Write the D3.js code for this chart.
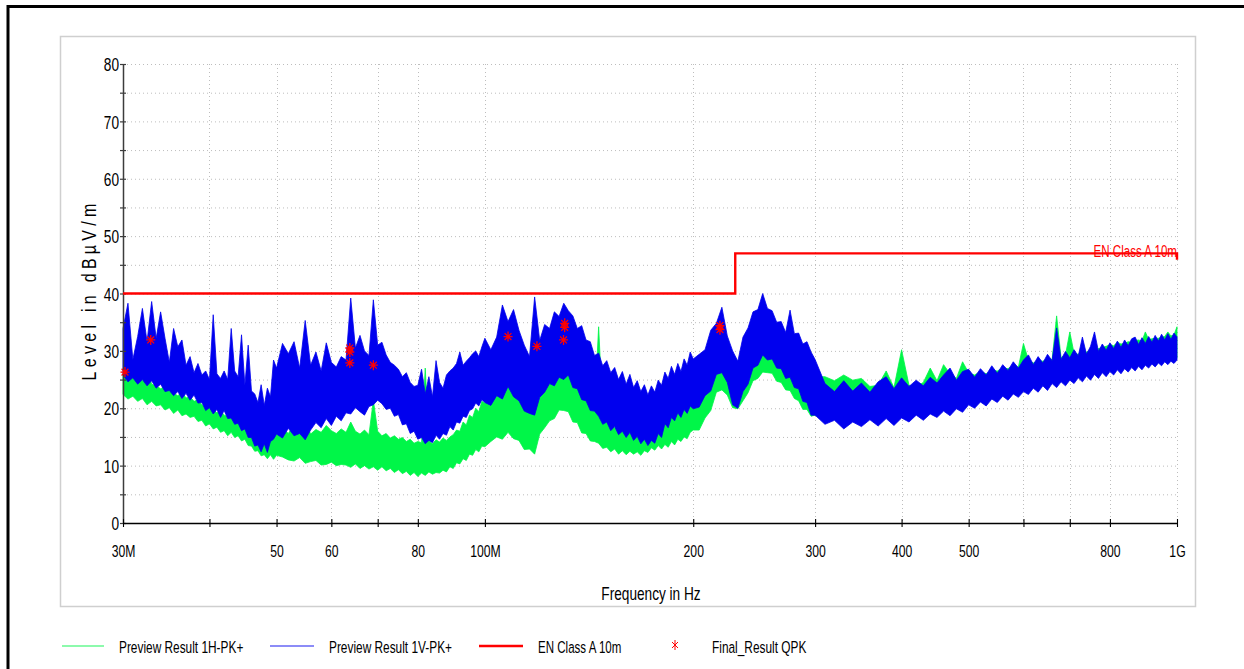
<!DOCTYPE html>
<html>
<head>
<meta charset="utf-8">
<script src="https://cdn.jsdelivr.net/npm/d3@7"></script>
<style>
  body { margin: 0; background: #fff; }
  svg { display: block; }
</style>
</head>
<body>
<svg id="chart" width="1244" height="669"></svg>
<script>
// Sweep frequencies in MHz
const freqMHz = [
  30,30.5,31,31.5,32,32.5,33,33.5,34,34.5,
  35,35.5,36,36.5,37,37.5,38,38.5,39,39.5,
  40,40.5,41,41.5,42,42.5,43,43.5,44,44.5,
  45,45.5,46,46.5,47,47.5,48,48.5,49,49.5,
  50,
  51,52,53,54,55,56,57,58,59,60,
  61,62,63,64,65,66,67,68,69,70,
  71,72,73,74,75,76,77,78,79,80,
  81,82,83,84,85,86,87,88,89,90,
  91,92,93,94,95,96,97,98,99,100,
  102,104,106,108,110,112,114,116,118,120,
  122,124,126,128,130,132,134,136,138,140,
  142,144,146,148,150,152,154,156,158,160,
  162,164,166,168,170,172,174,176,178,180,
  182,184,186,188,190,192,194,196,198,200,
  204,208,212,216,220,224,228,232,236,240,
  244,248,252,256,260,264,268,272,276,280,
  284,288,292,296,300,
  310,320,330,340,350,360,370,380,390,400,
  410,420,430,440,450,460,470,480,490,500,
  510,520,530,540,550,560,570,580,590,600,
  610,620,630,640,650,660,670,680,690,700,
  710,720,730,740,750,760,770,780,790,800,
  810,820,830,840,850,860,870,880,890,900,
  910,920,930,940,950,960,970,980,990,1000
];

// Preview Result 1H-PK+ : upper / lower edge of the peak trace (dBµV/m)
const levelH_max = [
  25.8,25.2,25.5,24.6,24.9,26.8,24.2,23.9,23.4,23.8,
  24.3,22.6,22.2,22.8,21.8,22.0,21.2,21.5,20.6,20.2,
  20.5,19.8,19.2,19.6,18.8,18.6,18.9,18.2,17.8,17.5,
  17.9,17.0,16.5,16.2,16.6,15.8,15.2,15.6,14.9,15.4,
  15.8,
  16.5,15.6,17.2,16.0,17.8,15.5,16.3,15.8,17.0,16.1,
  15.6,16.4,15.8,17.6,16.0,15.5,16.2,15.4,21.4,16.0,
  15.2,15.6,14.8,15.2,14.6,14.9,14.2,14.6,13.9,14.2,
  14.0,27.0,14.3,13.8,14.5,14.1,14.8,14.4,15.0,15.4,
  16.2,16.0,17.6,17.1,18.8,18.4,20.0,19.4,21.2,20.9,
  22.0,23.6,23.4,24.4,23.0,22.6,20.6,20.9,21.5,23.8,
  24.2,25.8,26.0,27.9,28.4,27.1,26.2,24.0,23.5,21.6,
  21.3,19.6,34.2,19.4,17.8,18.0,16.5,17.3,16.1,17.6,
  15.9,16.5,16.8,15.5,16.7,16.2,17.8,17.1,18.4,17.8,
  19.3,18.3,19.6,19.2,20.4,19.6,21.0,20.1,21.4,20.8,
  22.9,23.2,25.4,26.1,27.9,25.6,23.8,21.7,23.9,25.1,
  27.9,28.6,30.4,30.1,29.8,28.4,28.3,26.6,26.8,25.4,
  25.5,24.2,24.4,25.6,25.5,
  25.5,24.8,25.8,24.9,25.2,23.8,24.0,26.5,23.6,30.2,
  24.0,23.8,24.5,27.0,24.8,27.6,26.0,25.2,28.1,26.2,
  25.8,26.4,26.0,26.6,26.5,27.0,26.9,27.5,27.2,31.3,
  28.4,27.9,28.3,28.2,28.6,28.5,36.1,28.8,29.3,33.3,
  29.6,29.4,30.2,29.8,30.1,30.5,30.4,30.6,30.8,31.1,
  30.9,31.5,31.2,31.3,31.6,31.5,31.8,31.9,31.7,33.3,
  32.0,32.1,32.2,32.2,32.4,32.5,33.3,32.6,32.8,34.2
];
const levelH_min = [
  22.4,21.6,22.1,21.2,21.7,20.6,21.2,20.4,20.6,19.7,
  20.1,19.1,19.7,18.7,19.0,18.4,18.6,17.7,17.9,16.9,
  17.3,16.4,16.7,15.8,16.1,15.2,15.8,14.9,15.2,14.3,
  14.6,13.5,13.4,12.5,12.6,11.7,11.9,11.2,11.9,11.1,
  11.8,
  11.5,11.0,10.8,11.4,10.4,10.7,10.9,10.1,10.2,10.6,
  10.0,10.2,10.1,9.7,10.3,9.5,10.0,9.4,9.8,9.2,
  9.8,9.1,9.5,8.8,9.3,8.6,9.0,8.3,8.8,8.1,
  8.7,8.3,8.9,8.5,8.8,8.7,9.2,8.9,9.8,9.5,
  10.5,10.3,11.2,10.9,12.0,11.8,12.8,12.4,13.4,13.3,
  14.2,15.0,14.6,15.8,14.7,14.4,12.8,12.9,12.0,15.5,
  16.6,17.8,18.2,19.7,19.6,19.4,17.6,17.5,15.7,15.6,
  14.3,14.2,13.9,13.0,13.2,12.4,12.9,12.0,12.6,11.9,
  12.5,12.0,12.4,11.8,12.6,12.3,13.1,12.7,13.5,12.9,
  13.7,13.2,14.2,13.6,14.6,14.2,15.0,14.7,15.8,16.2,
  16.2,18.3,19.6,22.8,23.2,22.3,20.1,19.9,21.3,22.7,
  24.8,25.2,26.3,26.2,26.1,24.7,24.5,23.2,23.1,21.7,
  21.3,19.8,19.8,18.6,18.8,
  18.3,18.0,18.5,17.9,18.4,18.7,18.1,18.9,18.6,19.0,
  18.9,19.6,19.2,19.9,19.5,20.3,19.8,20.6,20.2,21.2,
  20.8,21.7,21.2,22.1,21.7,22.6,22.1,23.0,22.6,23.4,
  23.1,23.9,23.5,24.3,23.8,24.6,24.2,24.9,24.5,25.3,
  24.9,25.6,25.2,25.9,25.5,26.2,25.8,26.4,26.0,26.7,
  26.3,26.9,26.6,27.2,26.8,27.4,27.0,27.6,27.2,27.8,
  27.5,28.0,27.7,28.2,27.9,28.4,28.1,28.5,28.3,28.7
];

// Preview Result 1V-PK+ : upper / lower edge of the peak trace (dBµV/m)
const levelV_max = [
  33.9,38.3,28.5,32.5,37.4,31.6,38.6,32.2,36.8,32.2,
  28.0,33.9,30.7,31.9,27.5,29.0,26.2,27.8,25.8,26.5,
  25.0,36.3,26.0,25.2,26.5,25.0,33.9,26.5,25.5,32.8,
  24.0,31.0,23.0,22.5,21.0,24.1,20.5,23.5,22.0,28.4,
  27.0,
  31.3,29.5,31.6,27.0,35.3,27.5,29.8,26.5,31.4,28.0,
  27.2,29.0,28.4,39.2,30.5,32.7,30.0,29.2,38.9,31.0,
  31.5,29.3,28.0,27.5,26.8,25.5,26.2,24.5,23.8,24.0,
  26.8,22.5,25.5,22.0,28.3,24.5,23.5,25.8,26.5,27.0,
  27.8,29.8,27.5,28.2,28.8,29.5,30.0,29.0,30.7,32.2,
  30.2,32.4,38.0,35.1,37.2,33.6,31.0,29.0,39.4,31.8,
  34.6,33.9,36.8,36.0,38.3,37.0,36.1,33.9,34.4,31.9,
  31.6,29.2,29.6,27.4,28.3,26.2,27.1,25.0,26.4,24.2,
  25.9,23.6,24.8,22.9,24.1,22.3,23.9,22.8,24.9,24.0,
  26.3,25.2,27.3,25.9,27.8,26.4,28.6,27.5,29.8,28.6,
  29.4,30.2,33.6,34.8,37.6,32.6,30.0,28.2,32.4,34.0,
  36.8,37.2,40.0,37.4,37.0,35.0,35.1,33.2,37.1,33.0,
  33.1,31.2,31.6,29.8,28.5,
  24.3,22.9,24.8,23.0,24.4,22.8,24.6,25.5,23.4,25.3,
  23.8,24.9,23.9,25.4,24.4,25.8,27.0,24.9,26.4,26.8,
  25.4,26.9,25.8,27.4,26.1,27.6,26.6,28.1,27.0,28.4,
  29.3,27.6,29.0,27.9,29.4,28.3,34.0,28.5,29.9,28.8,
  30.2,29.1,32.4,29.4,30.8,33.3,29.9,31.2,30.1,31.4,
  30.4,31.7,30.6,31.9,30.9,32.1,32.4,31.1,32.3,31.3,
  32.5,31.5,32.7,31.7,32.9,31.9,33.0,32.0,33.1,32.4
];
const levelV_min = [
  25.8,24.6,25.3,24.2,25.0,23.9,24.8,23.5,24.2,22.9,
  23.1,22.2,22.9,21.7,22.6,21.4,22.3,20.9,21.0,19.6,
  20.1,19.0,19.8,18.4,19.6,18.2,18.3,17.2,17.4,16.1,
  16.4,14.9,14.9,13.4,13.6,12.4,13.8,12.3,14.2,14.6,
  15.5,
  14.8,16.5,15.2,15.6,14.5,16.2,17.5,16.6,18.2,17.0,
  18.6,17.8,19.2,19.0,20.1,19.4,18.8,20.3,20.6,21.4,
  20.8,19.8,20.0,18.6,18.9,17.1,17.3,15.6,16.0,14.6,
  14.9,13.8,14.4,14.0,15.3,14.6,15.6,15.3,16.8,16.2,
  17.6,17.4,18.6,18.4,19.6,19.9,20.9,20.4,21.5,21.0,
  20.5,22.2,21.6,23.8,22.0,21.3,19.5,19.1,18.8,21.9,
  22.8,24.3,23.9,25.4,25.0,25.8,23.6,23.4,21.5,21.3,
  19.6,19.5,18.6,17.2,17.6,16.1,16.8,15.4,16.0,14.9,
  15.8,14.4,15.1,13.8,14.6,13.5,14.4,13.9,15.6,14.9,
  17.3,16.6,18.4,17.8,19.2,18.4,19.8,19.1,20.4,19.9,
  20.2,22.2,23.0,25.9,26.2,24.5,20.6,20.0,22.9,24.2,
  27.0,27.5,29.3,28.4,28.6,27.0,26.9,25.2,25.4,23.6,
  23.4,21.2,21.0,18.8,18.8,
  17.2,17.9,16.4,17.6,16.8,18.0,16.9,18.2,17.0,18.3,
  17.6,18.8,17.9,19.0,18.4,19.5,18.7,19.9,19.3,20.6,
  20.0,21.1,20.4,21.6,21.0,22.1,21.4,22.5,21.9,22.9,
  22.4,23.5,22.8,23.9,23.1,24.3,23.6,24.6,23.9,24.9,
  24.3,25.3,24.6,25.6,24.9,25.9,25.2,26.2,25.5,26.4,
  25.8,26.7,26.0,26.9,26.3,27.1,26.5,27.3,26.7,27.5,
  27.0,27.7,27.2,27.9,27.4,28.1,27.6,28.2,27.8,28.4
];

// EN Class A 10m limit
const limitFreq  = [30, 230, 230, 1000, 1000];
const limitLevel = [40, 40, 47, 47, 45.9];

// Final_Result QPK points
const qpkFreq  = [30.2, 32.9, 63.8, 63.8, 63.8, 69.0, 108.0, 118.9, 130.4, 130.4, 129.9, 218.6, 218.6];
const qpkLevel = [26.3, 31.9, 30.5, 29.8, 27.9, 27.5, 32.5, 30.8, 34.8, 34.1, 31.9, 34.4, 33.7];

// Axis ticks
const yTicks = [0,5,10,15,20,25,30,35,40,45,50,55,60,65,70,75,80];
const xTickValues = [30,40,50,60,70,80,100,200,300,400,500,600,700,800,1000];
const xTickLabels = ["30M","","50","60","","80","100M","200","300","400","500","","","800","1G"];

const legendNames = ["Preview Result 1H-PK+", "Preview Result 1V-PK+", "EN Class A 10m", "Final_Result QPK"];

const COLOR_H = "#00f648";
const COLOR_V = "#0000ee";
const COLOR_LIMIT = "#ff0000";
const FONT = "'Liberation Sans', Arial, sans-serif";

const svg = d3.select("#chart");

const x = d3.scaleLog().domain([30, 1000]).range([123, 1177]);
const y = d3.scaleLinear().domain([0, 80]).range([523, 64]);

function label(parent, px, py, str, opts = {}) {
  return parent.append("text")
    .attr("transform", `translate(${px},${py}) scale(${opts.sx || 0.76},1)`)
    .attr("text-anchor", opts.anchor || "start")
    .attr("font-family", FONT)
    .attr("font-size", opts.size || 16)
    .attr("fill", opts.fill || "#000")
    .text(str);
}

// Outer frame and chart panel
svg.append("rect").attr("x", 8).attr("y", 6.5).attr("width", 1300).attr("height", 700)
  .attr("fill", "none").attr("stroke", "#000").attr("stroke-width", 3);
svg.append("rect").attr("x", 60.5).attr("y", 36.5).attr("width", 1135).attr("height", 570)
  .attr("fill", "#fff").attr("stroke", "#cfcfcf").attr("stroke-width", 1.5);

// Dotted grid
const grid = svg.append("g").attr("stroke", "#bdbdbd").attr("stroke-width", 1).attr("stroke-dasharray", "1,3");
grid.selectAll("line.h").data(yTicks.filter(v => v > 0)).join("line")
  .attr("x1", x(30)).attr("x2", x(1000)).attr("y1", d => y(d) + 0.5).attr("y2", d => y(d) + 0.5);
grid.selectAll("line.v").data(xTickValues.filter(f => f > 30)).join("line")
  .attr("x1", d => Math.round(x(d)) + 0.5).attr("x2", d => Math.round(x(d)) + 0.5)
  .attr("y1", y(80)).attr("y2", y(0));

// Traces: band between the lower and upper edge of each peak trace
const rows = freqMHz.map((f, i) => ({
  f, hH: levelH_max[i], lH: levelH_min[i], hV: levelV_max[i], lV: levelV_min[i]
}));
const areaH = d3.area().x(d => x(d.f)).y0(d => y(d.lH)).y1(d => y(d.hH));
const areaV = d3.area().x(d => x(d.f)).y0(d => y(d.lV)).y1(d => y(d.hV));
svg.append("path").datum(rows).attr("d", areaH)
  .attr("fill", COLOR_H).attr("stroke", COLOR_H).attr("stroke-width", 0.8).attr("stroke-linejoin", "miter");
svg.append("path").datum(rows).attr("d", areaV)
  .attr("fill", COLOR_V).attr("stroke", COLOR_V).attr("stroke-width", 0.8).attr("stroke-linejoin", "miter");

// Axes
const yAxis = d3.axisLeft(y).tickValues(yTicks).tickSize(3).tickSizeOuter(0)
  .tickFormat(v => (v % 10 === 0 ? String(v) : ""));
const gy = svg.append("g").attr("transform", `translate(${x(30)},0)`).call(yAxis);
gy.select(".domain").attr("stroke", "#3c3c3c").attr("stroke-width", 1.5);
gy.selectAll(".tick line").attr("x1", 3).attr("x2", -3).attr("stroke", "#3c3c3c").attr("stroke-width", 1.2);
gy.selectAll(".tick text").attr("x", 0).attr("dy", "0.36em")
  .attr("transform", "translate(-4,0) scale(0.74,1)")
  .attr("font-family", FONT).attr("font-size", 18.5).attr("fill", "#000");

const xAxis = d3.axisBottom(x).tickValues(xTickValues).tickSize(4).tickSizeOuter(0)
  .tickFormat((d, i) => xTickLabels[i]);
const gx = svg.append("g").attr("transform", `translate(0,${y(0)})`).call(xAxis);
gx.select(".domain").attr("stroke", "#000").attr("stroke-width", 1.3);
gx.selectAll(".tick line").attr("y1", -4).attr("y2", 4).attr("stroke", "#000").attr("stroke-width", 1.1);
gx.selectAll(".tick text").attr("y", 0).attr("dy", 0)
  .attr("transform", "translate(0,34) scale(0.74,1)")
  .attr("font-family", FONT).attr("font-size", 16.5).attr("fill", "#000");
svg.selectAll(".domain").attr("fill", "none");

// Limit line and its label
const limitLine = d3.line().x(d => x(d[0])).y(d => y(d[1]));
svg.append("path").datum(limitFreq.map((f, i) => [f, limitLevel[i]]))
  .attr("d", limitLine).attr("fill", "none").attr("stroke", COLOR_LIMIT).attr("stroke-width", 2.4);
label(svg, x(1000), y(47) + 4, legendNames[2], { anchor: "end", size: 17, sx: 0.68, fill: COLOR_LIMIT });

// Final result markers
const star = "M-4.5,0H4.5M0,-5V5M-3.4,-3.4L3.4,3.4M-3.4,3.4L3.4,-3.4";
svg.append("g").selectAll("path").data(qpkFreq.map((f, i) => [f, qpkLevel[i]])).join("path")
  .attr("transform", d => `translate(${x(d[0])},${y(d[1])})`)
  .attr("d", star).attr("fill", "none").attr("stroke", COLOR_LIMIT).attr("stroke-width", 1.3);

// Axis titles
label(svg, 651, 600, "Frequency in Hz", { anchor: "middle", size: 17.5, sx: 0.78 });
svg.append("text")
  .attr("transform", "translate(96,292) rotate(-90) scale(0.8,1)")
  .attr("text-anchor", "middle")
  .attr("font-family", FONT).attr("font-size", 20)
  .attr("textLength", 221).attr("lengthAdjust", "spacing")
  .text("Level in dBµV/m");

// Legend
const lg = svg.append("g");
const legendY = 646;
lg.append("line").attr("x1", 62).attr("x2", 104).attr("y1", legendY).attr("y2", legendY)
  .attr("stroke", COLOR_H).attr("stroke-width", 1.6).attr("opacity", 0.6);
label(lg, 119, 653, legendNames[0], { size: 16.5, sx: 0.72 });
lg.append("line").attr("x1", 270).attr("x2", 314).attr("y1", legendY).attr("y2", legendY)
  .attr("stroke", COLOR_V).attr("stroke-width", 1.6).attr("opacity", 0.6);
label(lg, 329, 653, legendNames[1], { size: 16.5, sx: 0.72 });
lg.append("line").attr("x1", 479).attr("x2", 523).attr("y1", legendY).attr("y2", legendY)
  .attr("stroke", COLOR_LIMIT).attr("stroke-width", 2.6);
label(lg, 538, 653, legendNames[2], { size: 16.5, sx: 0.7 });
lg.append("path").attr("transform", `translate(675,${legendY - 1})`)
  .attr("d", "M0,-5V5M-3,-3L3,3M-3,3L3,-3").attr("fill", "none").attr("stroke", COLOR_LIMIT).attr("stroke-width", 1);
label(lg, 712, 653, legendNames[3], { size: 16.5, sx: 0.72 });
</script>
</body>
</html>
